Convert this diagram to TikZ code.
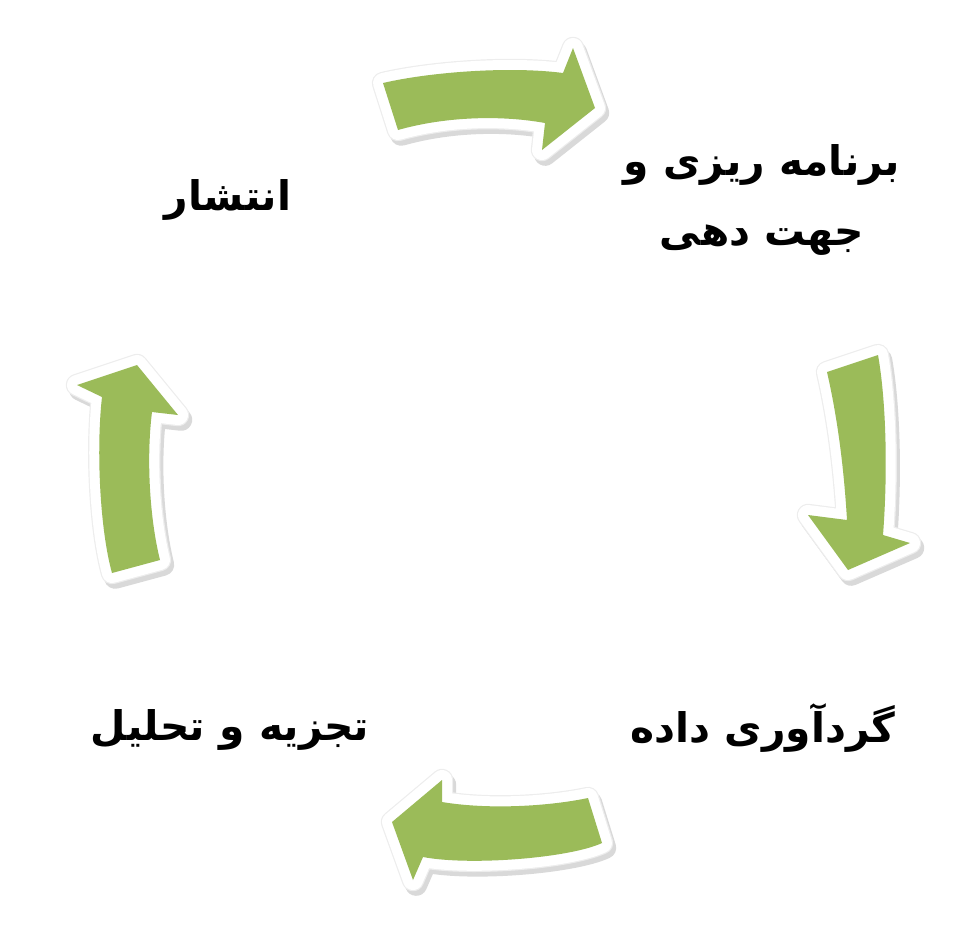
\documentclass[tikz,border=0pt]{standalone}
\usepackage{fontspec}
\usepackage{tikz}
\usetikzlibrary{positioning}
\TeXXeTstate=1
\newfontfamily\persianfont[Script=Arabic]{DejaVu Sans}
\definecolor{arrowgreen}{HTML}{9BBB59}
\tikzset{stage/.style={align=center,font=\persianfont\bfseries\fontsize{29}{50}\selectfont,inner sep=0mm}}
\tikzset{cyclearrow/.style={
    preaction={fill=black!15,draw=black!15,line width=5.5mm,line join=round,
      transform canvas={shift={(0.8mm,-1.2mm)}}},
    preaction={draw=black!7,line width=5.6mm,line join=round},
    preaction={fill=white,draw=white,line width=5mm,line join=round},
    fill=arrowgreen}}

\begin{document}
\begin{tikzpicture}[x=0.25mm,y=-0.25mm]
    \useasboundingbox (0,0) rectangle (980,941);

    \node[stage] (plan)    at (762,200) {\beginR برنامه ریزی و\endR\\\beginR جهت دهی\endR};
    \node[stage] (collect) at (763,728) {\beginR گردآوری داده\endR};
    \node[stage] (analyse) at (230,730) {\beginR تجزیه و تحلیل\endR};
    \node[stage] (publish) at (228,200) {\beginR انتشار\endR};

    % top
    \path[cyclearrow] (383,83) .. controls (430,72) and (510,66) .. (563,73)
      -- (573,48) -- (595,108) -- (542,150) -- (545,123)
      .. controls (495,114) and (440,118) .. (398,130) -- cycle;
    % right
    \path[cyclearrow] (878,355) .. controls (886,400) and (888,470) .. (883,535)
      -- (910,543) -- (848,570) -- (808,515) -- (847,520)
      .. controls (844,470) and (838,420) .. (827,372) -- cycle;
    % bottom
    \path[cyclearrow] (602,843) .. controls (570,858) and (470,866) .. (423,857)
      -- (413,880) -- (392,822) -- (442,780) -- (442,802)
      .. controls (490,810) and (550,806) .. (588,798) -- cycle;
    % left
    \path[cyclearrow] (112,573) .. controls (100,530) and (96,450) .. (102,397)
      -- (77,385) -- (137,365) -- (178,415) -- (152,412)
      .. controls (146,460) and (150,520) .. (160,560) -- cycle;
\end{tikzpicture}
\end{document}
